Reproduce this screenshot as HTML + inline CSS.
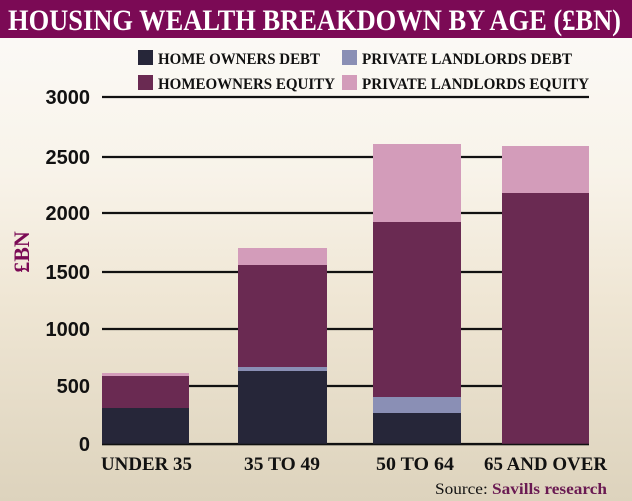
<!DOCTYPE html>
<html><head><meta charset="utf-8"><style>
html,body{margin:0;padding:0;width:632px;height:501px;overflow:hidden}
</style></head><body>
<svg width="632" height="501" viewBox="0 0 632 501" xmlns="http://www.w3.org/2000/svg" font-family="'Liberation Sans',sans-serif">
<defs>
<linearGradient id="bg" x1="0" y1="0" x2="0" y2="1">
<stop offset="0" stop-color="#fcfbf9"/>
<stop offset="0.35" stop-color="#f8f3e9"/>
<stop offset="0.6" stop-color="#efe6d4"/>
<stop offset="1" stop-color="#ddd3bd"/>
</linearGradient>
</defs>
<rect width="632" height="501" fill="url(#bg)"/>
<rect width="632" height="38" fill="#7b0a55"/>
<text x="8" y="30" font-family="'Liberation Serif',serif" font-size="30" font-weight="bold" fill="#fff" textLength="613" lengthAdjust="spacingAndGlyphs">HOUSING WEALTH BREAKDOWN BY AGE (£BN)</text>
<!-- legend -->
<g font-family="'Liberation Serif',serif" font-size="16" font-weight="bold" fill="#111">
<rect x="138" y="50" width="15" height="15" fill="#262639"/>
<text x="158" y="64" textLength="162" lengthAdjust="spacingAndGlyphs">HOME OWNERS DEBT</text>
<rect x="138" y="75" width="15" height="15" fill="#6a2a52"/>
<text x="158" y="89" textLength="177" lengthAdjust="spacingAndGlyphs">HOMEOWNERS EQUITY</text>
<rect x="342" y="50" width="15" height="15" fill="#8a8fb5"/>
<text x="362" y="64" textLength="210" lengthAdjust="spacingAndGlyphs">PRIVATE LANDLORDS DEBT</text>
<rect x="342" y="75" width="15" height="15" fill="#d39cba"/>
<text x="362" y="89" textLength="227" lengthAdjust="spacingAndGlyphs">PRIVATE LANDLORDS EQUITY</text>
</g>
<!-- gridlines -->
<g stroke="#111" stroke-width="2.2">
<line x1="102" x2="589" y1="97" y2="97"/>
<line x1="102" x2="589" y1="157" y2="157"/>
<line x1="102" x2="589" y1="213" y2="213"/>
<line x1="102" x2="589" y1="272" y2="272"/>
<line x1="102" x2="589" y1="329" y2="329"/>
<line x1="102" x2="589" y1="386" y2="386"/>
<line x1="102" x2="589" y1="444" y2="444"/>
</g>
<g font-size="20" font-weight="bold" fill="#111" text-anchor="end">
<text x="90" y="104">3000</text>
<text x="90" y="164">2500</text>
<text x="90" y="220">2000</text>
<text x="90" y="279">1500</text>
<text x="90" y="336">1000</text>
<text x="90" y="393">500</text>
<text x="90" y="451">0</text>
</g>
<text transform="translate(29,252) rotate(-90)" font-family="'Liberation Serif',serif" font-size="22" font-weight="bold" fill="#7b0a55" text-anchor="middle">£BN</text>
<!-- bars -->
<g>
<rect x="102" y="373" width="87" height="3" fill="#d39cba"/>
<rect x="102" y="376" width="87" height="32" fill="#6a2a52"/>
<rect x="102" y="408" width="87" height="36" fill="#262639"/>

<rect x="238" y="248" width="89" height="17" fill="#d39cba"/>
<rect x="238" y="265" width="89" height="102" fill="#6a2a52"/>
<rect x="238" y="367" width="89" height="4" fill="#8a8fb5"/>
<rect x="238" y="371" width="89" height="73" fill="#262639"/>

<rect x="373" y="144" width="88" height="78" fill="#d39cba"/>
<rect x="373" y="222" width="88" height="175" fill="#6a2a52"/>
<rect x="373" y="397" width="88" height="16" fill="#8a8fb5"/>
<rect x="373" y="413" width="88" height="31" fill="#262639"/>

<rect x="502" y="146" width="87" height="47" fill="#d39cba"/>
<rect x="502" y="193" width="87" height="251" fill="#6a2a52"/>
</g>
<line x1="102" x2="589" y1="444.5" y2="444.5" stroke="#111" stroke-width="1.5"/>
<g font-family="'Liberation Serif',serif" font-size="19" font-weight="bold" fill="#111">
<text x="101" y="470" textLength="91" lengthAdjust="spacingAndGlyphs">UNDER 35</text>
<text x="244" y="470" textLength="76" lengthAdjust="spacingAndGlyphs">35 TO 49</text>
<text x="376" y="470" textLength="78" lengthAdjust="spacingAndGlyphs">50 TO 64</text>
<text x="484" y="470" textLength="123" lengthAdjust="spacingAndGlyphs">65 AND OVER</text>
</g>
<text x="435" y="494" font-family="'Liberation Serif',serif" font-size="16" fill="#111" textLength="172" lengthAdjust="spacingAndGlyphs">Source: <tspan font-weight="bold" fill="#6a1a52">Savills research</tspan></text>
</svg>
</body></html>
